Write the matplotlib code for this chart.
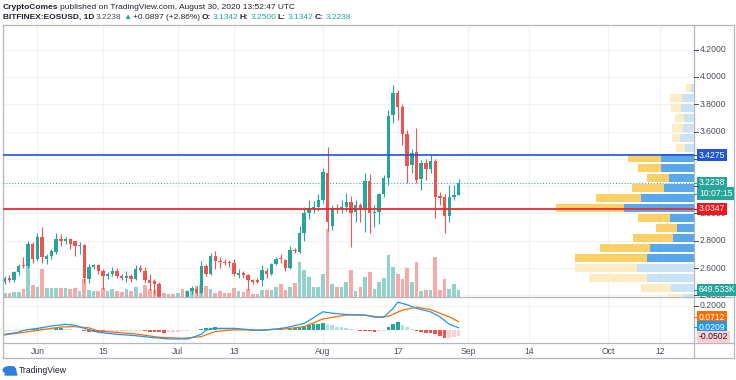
import matplotlib
matplotlib.use("Agg")
import matplotlib.pyplot as plt
from matplotlib.transforms import blended_transform_factory as blend
from matplotlib.lines import Line2D
from matplotlib.patches import Circle, Polygon

plt.rcParams['font.family'] = ['Liberation Sans', 'DejaVu Sans']

W, H = 736, 380

# EOS/USD daily candles, index 0 = 25 May 2020 ... 97 = 30 Aug 2020
opens = [2.50, 2.53, 2.51, 2.57, 2.625, 2.615, 2.775, 2.67, 2.83, 2.67,
         2.69, 2.72, 2.81, 2.80, 2.81, 2.795, 2.76, 2.77, 2.52, 2.605,
         2.62, 2.575, 2.545, 2.56, 2.58, 2.545, 2.525, 2.545, 2.52, 2.60,
         2.58, 2.51, 2.505, 2.48, 2.37, 2.35, 2.36, 2.345, 2.37, 2.37,
         2.43, 2.45, 2.42, 2.615, 2.56, 2.685, 2.655, 2.645, 2.645, 2.635,
         2.55, 2.562, 2.55, 2.51, 2.51, 2.51, 2.575, 2.555, 2.63, 2.67,
         2.66, 2.60, 2.73, 2.72, 2.855, 3.00, 3.04, 3.05, 3.10, 3.30,
         2.905, 3.04, 3.03, 3.045, 3.082, 3.01, 3.06, 3.03, 3.24, 3.005,
         3.01, 3.14, 3.262, 3.72, 3.885, 3.782, 3.582, 3.355, 3.453, 3.25,
         3.368, 3.329, 3.387, 3.125, 3.12, 2.98, 3.119, 3.1342]
highs = [2.54, 2.55, 2.58, 2.63, 2.68, 2.80, 2.79, 2.855, 2.90, 2.70,
         2.74, 2.86, 2.85, 2.83, 2.82, 2.80, 2.79, 2.78, 2.63, 2.63,
         2.63, 2.59, 2.57, 2.61, 2.60, 2.56, 2.575, 2.56, 2.62, 2.62,
         2.61, 2.56, 2.52, 2.50, 2.385, 2.38, 2.38, 2.37, 2.385, 2.44,
         2.47, 2.47, 2.65, 2.63, 2.71, 2.725, 2.68, 2.67, 2.66, 2.67,
         2.59, 2.58, 2.56, 2.52, 2.53, 2.62, 2.60, 2.64, 2.68, 2.70,
         2.67, 2.76, 2.75, 2.905, 3.05, 3.10, 3.09, 3.14, 3.33, 3.49,
         3.06, 3.07, 3.10, 3.15, 3.13, 3.10, 3.08, 3.295, 3.29, 3.06,
         3.15, 3.28, 3.76, 3.941, 3.905, 3.80, 3.61, 3.47, 3.624, 3.39,
         3.40, 3.43, 3.40, 3.16, 3.14, 3.21, 3.21, 3.25]
lows = [2.48, 2.50, 2.50, 2.55, 2.60, 2.60, 2.64, 2.65, 2.64, 2.63,
        2.67, 2.70, 2.76, 2.78, 2.74, 2.69, 2.70, 2.49, 2.49, 2.59,
        2.56, 2.45, 2.52, 2.54, 2.53, 2.51, 2.50, 2.50, 2.51, 2.57,
        2.49, 2.44, 2.41, 2.34, 2.33, 2.32, 2.33, 2.31, 2.35, 2.36,
        2.41, 2.40, 2.41, 2.54, 2.55, 2.59, 2.60, 2.62, 2.61, 2.545,
        2.53, 2.53, 2.44, 2.48, 2.49, 2.47, 2.53, 2.55, 2.62, 2.64,
        2.58, 2.59, 2.71, 2.71, 2.80, 2.96, 3.00, 3.02, 3.08, 2.87,
        2.88, 3.00, 3.00, 3.02, 2.757, 2.94, 2.94, 2.867, 2.86, 2.90,
        2.92, 3.12, 3.21, 3.66, 3.685, 3.50, 3.22, 3.30, 3.22, 3.172,
        3.245, 3.30, 2.965, 3.06, 2.86, 2.94, 3.10, 3.1342]
closes = [2.53, 2.51, 2.57, 2.615, 2.612, 2.78, 2.67, 2.83, 2.68, 2.69,
          2.725, 2.81, 2.80, 2.81, 2.78, 2.76, 2.765, 2.525, 2.605, 2.62,
          2.575, 2.545, 2.56, 2.58, 2.545, 2.525, 2.54, 2.52, 2.59, 2.585,
          2.51, 2.49, 2.485, 2.37, 2.35, 2.36, 2.345, 2.35, 2.36, 2.43,
          2.455, 2.42, 2.615, 2.56, 2.685, 2.655, 2.645, 2.635, 2.635, 2.56,
          2.565, 2.55, 2.513, 2.50, 2.50, 2.586, 2.555, 2.63, 2.665, 2.665,
          2.60, 2.73, 2.725, 2.855, 3.00, 3.038, 3.05, 3.10, 3.307, 2.94,
          3.04, 3.03, 3.045, 3.085, 3.006, 3.06, 3.03, 3.238, 3.006, 3.01,
          3.14, 3.262, 3.714, 3.885, 3.782, 3.582, 3.348, 3.441, 3.245, 3.368,
          3.324, 3.387, 3.124, 3.115, 2.98, 3.119, 3.138, 3.2238]
volumes_k = [370, 380, 460, 470, 740, 2880, 1120, 930, 2600, 840,
             830, 850, 840, 820, 750, 840, 560, 1670, 650, 560,
             570, 840, 560, 740, 560, 470, 740, 560, 930, 380,
             1120, 740, 650, 1210, 370, 280, 290, 370, 740, 560,
             650, 1020, 1120, 1020, 740, 380, 560, 370, 380, 840,
             560, 470, 740, 280, 290, 650, 660, 650, 930, 1210,
             650, 930, 1300, 3260, 2510, 1860, 930, 940, 2140, 6320,
             1210, 930, 940, 1400, 2510, 560, 930, 1860, 2330, 740,
             1400, 1770, 3910, 2790, 2140, 1670, 2700, 1400, 3260, 560,
             650, 660, 3720, 650, 1670, 740, 1210, 649.533]

# MACD(12,26,9)
macd_i = [0, 3, 4, 7, 10, 13, 15, 17, 20, 24, 28, 31, 35, 39, 40, 42, 43, 45, 49,
          54, 56, 60, 64, 66, 68, 70, 73, 77, 79, 81, 83, 84, 86, 88, 91, 93, 95, 97]
macd_v = [-0.033, -0.016, 0.0, 0.016, 0.035, 0.049, 0.041, 0.016, -0.016, -0.033,
          -0.044, -0.057, -0.071, -0.071, -0.06, -0.033, 0.002, 0.016, 0.016,
          0.0, 0.002, 0.021, 0.057, 0.103, 0.152, 0.14, 0.13, 0.125, 0.108, 0.108,
          0.18, 0.23, 0.21, 0.18, 0.152, 0.11, 0.05, 0.0209]
sig_i = [0, 6, 12, 15, 18, 20, 28, 33, 38, 42, 45, 49, 54, 60, 64, 68, 73, 77, 80,
         82, 85, 88, 91, 95, 97]
sig_v = [-0.038, -0.006, 0.027, 0.030, 0.020, -0.006, -0.030, -0.057, -0.065, -0.052,
         -0.010, 0.004, 0.002, 0.012, 0.030, 0.093, 0.125, 0.125, 0.108, 0.115,
         0.165, 0.19, 0.17, 0.11, 0.0712]
hist = [-0.008, -0.006, -0.004, -0.002, 0.004, 0.010, 0.014, 0.018, 0.016, 0.013,
        0.011, 0.015, 0.017, 0.013, 0.009, 0.005, 0.002, -0.006, -0.011, -0.014,
        -0.016, -0.017, -0.015, -0.013, -0.011, -0.009, -0.007, -0.005, -0.004, -0.003,
        -0.008, -0.012, -0.015, -0.017, -0.018, -0.016, -0.013, -0.010, -0.007, -0.004,
        -0.001, 0.006, 0.012, 0.016, 0.021, 0.024, 0.022, 0.018, 0.014, 0.010,
        0.006, 0.003, 0.000, -0.002, -0.001, 0.001, 0.002, 0.004, 0.006, 0.007,
        0.006, 0.010, 0.016, 0.026, 0.036, 0.043, 0.048, 0.053, 0.060, 0.050,
        0.040, 0.031, 0.024, 0.017, 0.009, 0.004, -0.002, -0.004, -0.007, -0.010,
        -0.006, -0.002, 0.030, 0.052, 0.066, 0.046, 0.028, 0.012, -0.006, -0.012,
        -0.018, -0.025, -0.033, -0.045, -0.064, -0.060, -0.056, -0.0502]

# visible-range volume profile, rows from the top (width in px)
vp_top = 3.956
vp_row = 0.0733
vp_up = [2.7, 11.7, 12.7, 10.3, 11, 13.7, 9, 32.7, 32.7, 25, 30.3, 52.7, 70,
         24.3, 17, 21, 43.7, 46.7, 57, 46.7, 22.7, 11]
vp_down = [5, 12.7, 10, 9, 10.7, 8, 9.3, 33.3, 23.3, 21.7, 31.7, 45.7, 67.7,
           31.7, 21.3, 40, 50.7, 72.7, 62.3, 58.3, 30, 15]
value_area = range(7, 18)

tick_idx = [7, 21, 37, 49, 68, 84, 99, 112, 129, 140]
tick_lab = ['Jun', '15', 'Jul', '13', 'Aug', '17', 'Sep', '14', 'Oct', '12']
price_ticks = [2.4, 2.6, 2.8, 3.0, 3.2, 3.4, 3.6, 3.8, 4.0, 4.2]

UP, DOWN = '#26a69a', '#ef5350'
GRID = '#f0f2f6'
TXT = '#4a4e59'
FRAME = '#b4b7bf'


def fx(px):
    return px / W


def fy(py):
    return 1 - py / H


fig = plt.figure(figsize=(W / 100, H / 100), dpi=100)
L, R = 3, 694
XLIM = (-0.36, 147.3)

# ---- main price pane ----
ax = fig.add_axes([fx(L), fy(297), fx(R) - fx(L), fy(25) - fy(297)])
ax_vol = ax.twinx()
ax.set_zorder(ax_vol.get_zorder() + 1)
ax.patch.set_visible(False)
ax.set_xlim(*XLIM)
ax.set_ylim(2.388, 4.381)
ax_vol.set_ylim(0, 25110)

gtr = blend(ax_vol.transAxes, ax.transData)
for p in price_ticks:
    ax_vol.plot([0, 1], [p, p], color=GRID, lw=0.8, transform=gtr, zorder=0)
for t in tick_idx:
    ax_vol.axvline(t, color=GRID, lw=0.8, zorder=0)

n = len(closes)
idx = list(range(n))
vcol = ['#92d2cc' if closes[i] >= opens[i] else '#f7a9a7' for i in idx]
ax_vol.bar(idx, volumes_k, width=0.78, color=vcol, zorder=1)

for i in idx:
    c = UP if closes[i] >= opens[i] else DOWN
    ax.vlines(i, lows[i], highs[i], color=c, lw=0.8, zorder=2)
    lo = min(opens[i], closes[i])
    h = max(abs(closes[i] - opens[i]), 0.006)
    ax.bar(i, h, bottom=lo, width=0.72, color=c, zorder=3)

# volume profile overlay
ax_vp = ax.twiny()
ax_vp.set_zorder(ax.get_zorder() + 1)
ax_vp.patch.set_visible(False)
ax_vp.set_xlim(R - L, 0)
for k in range(len(vp_up)):
    yc = vp_top - (k + 0.5) * vp_row
    dark = k in value_area
    ax_vp.barh(yc, vp_up[k], height=vp_row * 0.88, left=0,
               color='#5aa8eb' if dark else '#c9e2f6', zorder=1)
    ax_vp.barh(yc, vp_down[k], height=vp_row * 0.88, left=vp_up[k],
               color='#fbd069' if dark else '#fdebc3', zorder=1)

ax_vp.axhline(3.2238, color=UP, lw=0.7, ls=(0, (1, 2)), zorder=2)
ax_vp.axhline(3.4275, color='#1f55d6', lw=1.2, zorder=3)
ax_vp.axhline(3.0347, color='#e82a2e', lw=1.3, zorder=3)

for a in (ax, ax_vol, ax_vp):
    a.set_xticks([])
    a.set_yticks([])
    for s in a.spines.values():
        s.set_visible(False)
ax_vp.set_ylim(ax.get_ylim())

# ---- MACD pane ----
axm = fig.add_axes([fx(L), fy(343), fx(R) - fx(L), fy(297) - fy(343)])
axm.set_xlim(*XLIM)
axm.set_ylim(-0.104, 0.273)
axm.axhline(0.2, color=GRID, lw=0.8, zorder=0)
for t in tick_idx:
    axm.axvline(t, color=GRID, lw=0.8, zorder=0)
hcol = []
for i in idx:
    prev = hist[i - 1] if i > 0 else hist[i]
    if hist[i] >= 0:
        hcol.append('#26a69a' if hist[i] >= prev else '#b2dfdb')
    else:
        hcol.append('#ef5350' if hist[i] < prev else '#ffcdd2')
axm.bar(idx, hist, width=0.8, color=hcol, zorder=1)
axm.plot(macd_i, macd_v, color='#2196f3', lw=0.9, zorder=3)
axm.plot(sig_i, sig_v, color='#ff6d00', lw=0.9, zorder=2)
axm.set_xticks([])
axm.set_yticks([])
for s in axm.spines.values():
    s.set_visible(False)


# ---- frame and separators ----
def fline(x0, y0, x1, y1, c=FRAME, lw=0.9, tr=None):
    if tr is None:
        fig.add_artist(Line2D([fx(x0), fx(x1)], [fy(y0), fy(y1)], color=c, lw=lw,
                              transform=fig.transFigure))
    else:
        fig.add_artist(Line2D([fx(x0), fx(x1)], [y0, y1], color=c, lw=lw,
                              transform=tr, zorder=6))


fline(3, 25, 734, 25)
fline(3, 25, 3, 358)
fline(3, 358, 734, 358)
fline(734, 25, 734, 358)
fline(694, 25, 694, 358)
fline(3, 297, 734, 297)
fline(3, 343, 734, 343)

# ---- price axis ----
tp = blend(fig.transFigure, ax.transData)
tm = blend(fig.transFigure, axm.transData)
for p in price_ticks:
    fline(694, p, 697.5, p, c=TXT, lw=0.7, tr=tp)
    fig.text(fx(700), p, f'{p:.4f}', transform=tp, fontsize=6.2, color=TXT,
             va='center')
fline(694, 0.2, 697.5, 0.2, c=TXT, lw=0.7, tr=tm)
fig.text(fx(700), 0.2, '0.2000', transform=tm, fontsize=6.2, color=TXT, va='center')


def tag(y, s, fc, tc='white', tr=tp):
    fline(694, y, 697.5, y, c=fc, lw=0.8, tr=tr)
    fig.text(fx(699), y, s, transform=tr, fontsize=6.2, color=tc, va='center',
             zorder=5, bbox=dict(boxstyle='square,pad=0.18', fc=fc, ec='none'))


tag(3.4275, '3.4275', '#1f55d6')
tag(3.2238, '3.2238', UP)
tag(3.146, '10:07:15', UP)
tag(3.0347, '3.0347', '#f0181d')
tag(2.442, '649.533K', UP)
tag(0.108, '0.0712', '#ff6d00', tr=tm)
tag(0.027, '0.0209', '#2196f3', tr=tm)
tag(-0.053, '-0.0502', '#ffcdd2', tc='#131722', tr=tm)

# ---- time axis ----
tt = blend(ax.transData, fig.transFigure)
for t, s in zip(tick_idx, tick_lab):
    fig.text(t, fy(352), s, transform=tt, fontsize=6.2, color=TXT,
             ha='center', va='center')

# ---- header ----
axt = fig.add_axes([0, 0, 1, 1])
axt.axis('off')
axt.set_zorder(10)


def chain(parts, x, y):
    s, w, c = parts[0]
    t = axt.text(fx(x), fy(y), s, fontsize=6.0, fontweight=w, color=c,
                 va='center', ha='left', transform=axt.transAxes)
    for s, w, c in parts[1:]:
        t = axt.annotate(s, xy=(1, 0.5), xycoords=t, xytext=(1.2, 0),
                         textcoords='offset points', fontsize=6.0, fontweight=w,
                         color=c, va='center', ha='left')


DARK = '#1e222d'
chain([('CryptoComes', 'bold', DARK),
       ('published on TradingView.com, August 30, 2020 13:52:47 UTC', 'normal', DARK)],
      3, 7.5)
chain([('BITFINEX:EOSUSD, 1D', 'bold', DARK),
       ('3.2238', 'normal', TXT), ('▲', 'normal', UP),
       ('+0.0897 (+2.86%)', 'normal', DARK),
       ('O:', 'bold', DARK), ('3.1342', 'normal', UP),
       ('H:', 'bold', DARK), ('3.2500', 'normal', UP),
       ('L:', 'bold', DARK), ('3.1342', 'normal', UP),
       ('C:', 'bold', DARK), ('3.2238', 'normal', UP)], 3, 17.5)

# TradingView logo
axt.add_patch(Circle((fx(9.5), fy(370)), 0.0085, color='#2e7fe0',
                     transform=axt.transAxes))
axt.add_patch(Polygon([(fx(5), fy(375)), (fx(17), fy(375)), (fx(14), fy(367)),
                       (fx(8), fy(367))], closed=True, color='#2e7fe0',
                      transform=axt.transAxes))
axt.text(fx(19), fy(370.5), 'TradingView', fontsize=6.2, color=DARK,
         va='center', ha='left', transform=axt.transAxes)

fig.savefig('out.png', dpi=100)
